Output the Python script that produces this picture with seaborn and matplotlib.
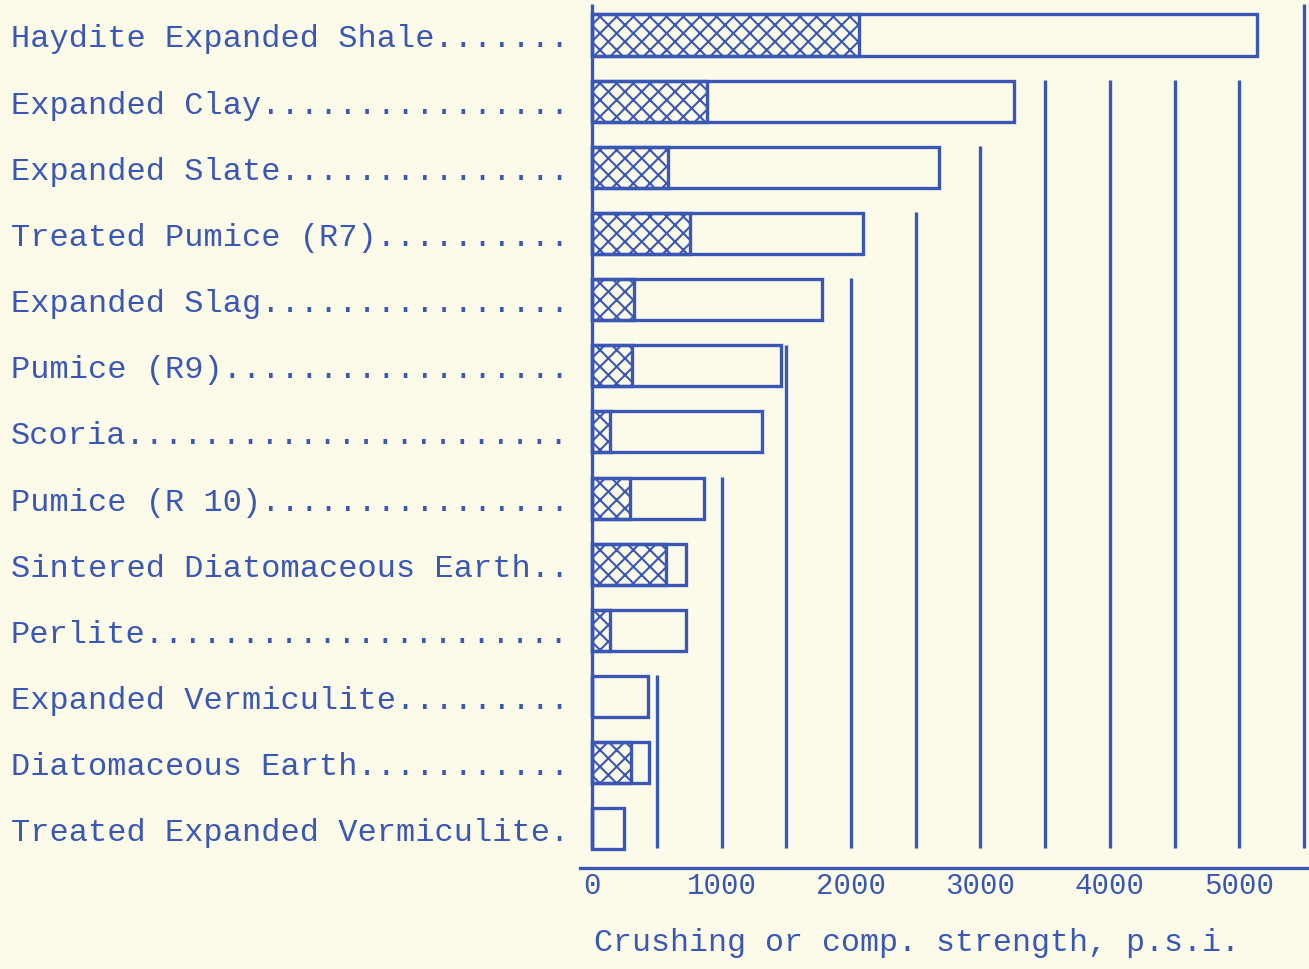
import numpy as np
import pandas as pd
import matplotlib
matplotlib.use("Agg")
import matplotlib.pyplot as plt
import seaborn as sns

# values (p.s.i.)
materials = [
    "Haydite Expanded Shale",
    "Expanded Clay",
    "Expanded Slate",
    "Treated Pumice (R7)",
    "Expanded Slag",
    "Pumice (R9)",
    "Scoria",
    "Pumice (R 10)",
    "Sintered Diatomaceous Earth",
    "Perlite",
    "Expanded Vermiculite",
    "Diatomaceous Earth",
    "Treated Expanded Vermiculite",
]
total_strength = [5135, 3256, 2679, 2094, 1778, 1463, 1316, 862, 724, 724, 431, 437, 246]
hatched_strength = [2063, 885, 585, 754, 323, 308, 139, 293, 570, 139, 0, 300, 0]
xtick_values = [0, 1000, 2000, 3000, 4000, 5000]
guide_values = [500, 1000, 1500, 2000, 2500, 3000, 3500, 4000, 4500, 5000, 5500]
x_label = "Crushing or comp. strength, p.s.i."

INK = "#3a57b5"
PAPER = "#fcfbea"
LABEL_WIDTH = 29

sns.set_theme(style="white")
plt.rcParams["font.family"] = ["Liberation Mono", "DejaVu Sans Mono"]
plt.rcParams["hatch.linewidth"] = 1.5

labels = [m + "." * (LABEL_WIDTH - len(m)) for m in materials]
df = pd.DataFrame({"label": labels, "total": total_strength, "hatched": hatched_strength})

fig = plt.figure(figsize=(13.09, 9.70), dpi=100, facecolor=PAPER)
ax = fig.add_axes([580 / 1309, 101 / 970, 729 / 1309, 869 / 970])
ax.set_facecolor(PAPER)

sns.barplot(data=df, x="total", y="label", orient="h", ax=ax, fill=False,
            color=INK, edgecolor=INK, linewidth=2.4, width=0.62, errorbar=None)
sns.barplot(data=df, x="hatched", y="label", orient="h", ax=ax, fill=False,
            color=INK, edgecolor=INK, linewidth=2.4, width=0.62, errorbar=None,
            hatch="xx")

n = len(materials)
bottom = n - 1 + 0.29

# left base line
ax.vlines(0, -0.47, bottom, color=INK, linewidth=2.4)

# staircase guide lines: each starts beside the first bar that falls short of it
for g in guide_values:
    row = next(i for i, v in enumerate(total_strength) if v < g)
    top = row - 0.32 if row > 0 else -0.47
    ax.vlines(g, top, bottom, color=INK, linewidth=2.4)

ax.set_xlim(-93, 5537)
ax.set_ylim(12.59, -0.544)

for s in ["top", "right", "left"]:
    ax.spines[s].set_visible(False)
ax.spines["bottom"].set_color(INK)
ax.spines["bottom"].set_linewidth(2.4)

ax.set_xticks(xtick_values)
ax.set_xticklabels([str(v) for v in xtick_values])
ax.tick_params(axis="x", length=0, pad=2, labelsize=21, labelcolor=INK)
ax.tick_params(axis="y", length=0, pad=410, labelsize=23, labelcolor=INK)
for t in ax.get_yticklabels():
    t.set_ha("left")

ax.set_ylabel("")
ax.set_xlabel(x_label, fontsize=22.8, color=INK, loc="left")
ax.xaxis.set_label_coords(14 / 729, -74 / 869)
ax.xaxis.label.set_va("center")

fig.savefig("out.png", dpi=100, facecolor=PAPER)
